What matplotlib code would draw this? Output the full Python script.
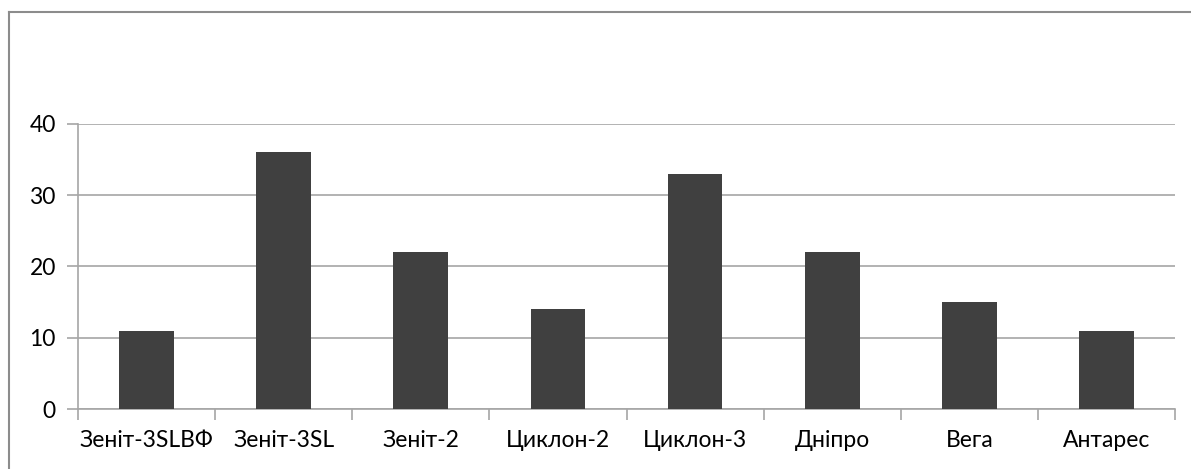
import matplotlib
matplotlib.use("Agg")
import matplotlib.pyplot as plt
from matplotlib.lines import Line2D

categories = ["Зеніт-3SLBФ", "Зеніт-3SL", "Зеніт-2", "Циклон-2", "Циклон-3", "Дніпро", "Вега", "Антарес"]
values = [11, 36, 22, 14, 33, 22, 15, 11]
yticks = [0, 10, 20, 30, 40]

W, H = 1191, 469
plt.rcParams['font.family'] = ['Lato', 'DejaVu Sans']
fig = plt.figure(figsize=(W / 100, H / 100), dpi=100)

# outer chart border (top and left visible)
fig.add_artist(Line2D([9 / W, 9 / W], [0, 1 - 12 / H], transform=fig.transFigure, color='#8c8c8c', lw=1.5))
fig.add_artist(Line2D([9 / W, 1], [1 - 12 / H, 1 - 12 / H], transform=fig.transFigure, color='#8c8c8c', lw=1.5))

left, right = 78 / W, 1175 / W
bottom, top = 1 - 409 / H, 1 - 123.7 / H
ax = fig.add_axes([left, bottom, right - left, top - bottom])

x = list(range(len(categories)))
ax.bar(x, values, width=0.4, color='#404040', zorder=3)
ax.set_xlim(-0.5, len(categories) - 0.5)
ax.set_ylim(0, 40)
ax.set_yticks(yticks)
ax.set_yticklabels([str(v) for v in yticks], fontsize=16.5)
ax.yaxis.grid(True, color='#a6a6a6', lw=1.2, zorder=0)
ax.set_xticks(x)
ax.set_xticklabels(categories, fontsize=16.5)
ax.tick_params(axis='x', length=0, pad=15)
ax.set_xticks([i - 0.5 for i in range(len(categories) + 1)], minor=True)
ax.tick_params(axis='x', which='minor', length=8, color='#a6a6a6', width=1.2)
ax.tick_params(axis='y', length=8, color='#a6a6a6', width=1.2, pad=8)
for s in ['top', 'right']:
    ax.spines[s].set_visible(False)
ax.spines['left'].set_color('#a6a6a6')
ax.spines['left'].set_linewidth(1.2)
ax.spines['bottom'].set_color('#a6a6a6')
ax.spines['bottom'].set_linewidth(1.2)
ax.set_axisbelow(True)

fig.savefig('out.png', dpi=100)
